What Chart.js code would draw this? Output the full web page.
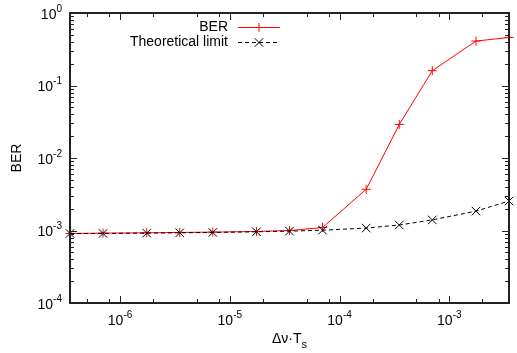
<!DOCTYPE html>
<html>
<head>
<meta charset="utf-8">
<script src="https://cdn.jsdelivr.net/npm/chart.js@4/dist/chart.umd.min.js"></script>
<style>
html,body{margin:0;padding:0;background:#fff;}
#c{display:block;}
</style>
</head>
<body>
<canvas id="c" width="517" height="353"></canvas>
<script>
// ---- data ----
const xValues = [3.5e-7, 7e-7, 1.75e-6, 3.5e-6, 7e-6, 1.75e-5, 3.5e-5, 7e-5, 1.75e-4, 3.5e-4, 7e-4, 1.75e-3, 3.5e-3];
const berValues = [9.1e-4, 9.2e-4, 9.3e-4, 9.4e-4, 9.5e-4, 9.7e-4, 1.0e-3, 1.1e-3, 3.7e-3, 2.9e-2, 1.6e-1, 4.1e-1, 4.6e-1];
const theoryValues = [9.1e-4, 9.1e-4, 9.2e-4, 9.3e-4, 9.4e-4, 9.6e-4, 9.8e-4, 1.01e-3, 1.08e-3, 1.19e-3, 1.4e-3, 1.85e-3, 2.55e-3];
const seriesLabels = ["BER", "Theoretical limit"];
const xTickExponents = [-6, -5, -4, -3];
const yTickExponents = [-4, -3, -2, -1, 0];
const xMinorMultipliers = [2, 5, 8];
const yMinorMultipliers = [2, 3, 4, 5, 6, 7, 8, 9];
const xTitle = "Δν·T";
const xTitleSub = "s";
const yTitle = "BER";

const FONT = '"Liberation Sans", Arial, Helvetica, sans-serif';

function toPoints(xs, ys){ return xs.map((x,i)=>({x:x, y:ys[i]})); }

function drawMarker(ctx, style, x, y, r, color){
  ctx.save();
  ctx.strokeStyle = color; ctx.lineWidth = 1; ctx.setLineDash([]);
  ctx.beginPath();
  if(style === 'cross'){
    ctx.moveTo(x-r, y); ctx.lineTo(x+r, y);
    ctx.moveTo(x, y-r); ctx.lineTo(x, y+r);
  } else {
    const d = r*Math.SQRT1_2;
    ctx.moveTo(x-d, y-d); ctx.lineTo(x+d, y+d);
    ctx.moveTo(x-d, y+d); ctx.lineTo(x+d, y-d);
  }
  ctx.stroke();
  ctx.restore();
}

function supText(ctx, base, sup, x, baseY, align){
  ctx.font = '14px ' + FONT;
  const wb = ctx.measureText(base).width;
  ctx.font = '10px ' + FONT;
  const ws = ctx.measureText(sup).width;
  const total = wb + ws;
  let left = x;
  if(align === 'center') left = x - total/2;
  else if(align === 'right') left = x - total;
  ctx.textAlign = 'left';
  ctx.textBaseline = 'alphabetic';
  ctx.font = '14px ' + FONT;
  ctx.fillText(base, left, baseY);
  ctx.font = '10px ' + FONT;
  ctx.fillText(sup, left + wb, baseY - 7);
}

const decorPlugin = {
  id: 'decor',
  afterDatasetsDraw(chart){
    const ctx = chart.ctx;
    const a = chart.chartArea;
    const xs = chart.scales.x, ys = chart.scales.y;
    ctx.save();
    ctx.strokeStyle = '#222'; ctx.fillStyle = '#000';
    // ticks
    ctx.lineWidth = 1;
    ctx.beginPath();
    xTickExponents.forEach(e=>{
      const px = Math.round(xs.getPixelForValue(Math.pow(10,e))) + 0.5;
      ctx.moveTo(px, a.bottom); ctx.lineTo(px, a.bottom-7);
      ctx.moveTo(px, a.top); ctx.lineTo(px, a.top+7);
    });
    for(let e=-7; e<=-3; e++){
      xMinorMultipliers.forEach(m=>{
        const v = m*Math.pow(10,e);
        if(v <= xs.min || v >= xs.max) return;
        const px = Math.round(xs.getPixelForValue(v)) + 0.5;
        ctx.moveTo(px, a.bottom); ctx.lineTo(px, a.bottom-4);
        ctx.moveTo(px, a.top); ctx.lineTo(px, a.top+4);
      });
    }
    yTickExponents.forEach(e=>{
      const py = Math.round(ys.getPixelForValue(Math.pow(10,e))) + 0.5;
      ctx.moveTo(a.left, py); ctx.lineTo(a.left+7, py);
      ctx.moveTo(a.right, py); ctx.lineTo(a.right-7, py);
    });
    for(let e=-4; e<0; e++){
      yMinorMultipliers.forEach(m=>{
        const v = m*Math.pow(10,e);
        const py = Math.round(ys.getPixelForValue(v)) + 0.5;
        ctx.moveTo(a.left, py); ctx.lineTo(a.left+4, py);
        ctx.moveTo(a.right, py); ctx.lineTo(a.right-4, py);
      });
    }
    ctx.stroke();
    // frame
    ctx.lineWidth = 2;
    ctx.strokeRect(a.left, a.top, a.right-a.left, a.bottom-a.top);
    // tick labels
    ctx.fillStyle = '#000';
    xTickExponents.forEach(e=>{
      const px = xs.getPixelForValue(Math.pow(10,e));
      supText(ctx, '10', String(e).replace('-', '-'), px, a.bottom + 22, 'center');
    });
    yTickExponents.forEach(e=>{
      const py = ys.getPixelForValue(Math.pow(10,e));
      supText(ctx, '10', String(e), a.left - 8, py + 5.5, 'right');
    });
    // axis titles
    ctx.font = '14px ' + FONT;
    const wT = ctx.measureText(xTitle).width;
    ctx.font = '11px ' + FONT;
    const wS = ctx.measureText(xTitleSub).width;
    const cx = (a.left + a.right)/2;
    const lx = cx - (wT+wS)/2;
    ctx.textAlign = 'left'; ctx.textBaseline = 'alphabetic';
    ctx.font = '14px ' + FONT;
    ctx.fillText(xTitle, lx, 343);
    ctx.font = '11px ' + FONT;
    ctx.fillText(xTitleSub, lx + wT, 348);
    ctx.save();
    ctx.translate(21, (a.top + a.bottom)/2);
    ctx.rotate(-Math.PI/2);
    ctx.font = '14px ' + FONT;
    ctx.textAlign = 'center'; ctx.textBaseline = 'alphabetic';
    ctx.fillText(yTitle, 0, 0);
    ctx.restore();
    // legend (gnuplot style: text right-aligned, sample on right)
    const rows = [26.5, 42];
    chart.data.datasets.forEach((ds, i)=>{
      const y = rows[i];
      ctx.font = '14px ' + FONT;
      ctx.textAlign = 'right'; ctx.textBaseline = 'middle';
      ctx.fillStyle = '#000';
      ctx.fillText(ds.label, 228, y + 0.5);
      ctx.save();
      ctx.strokeStyle = ds.borderColor; ctx.lineWidth = ds.borderWidth;
      ctx.setLineDash(ds.borderDash || []);
      ctx.beginPath(); ctx.moveTo(238, Math.round(y)+0.5); ctx.lineTo(280, Math.round(y)+0.5); ctx.stroke();
      ctx.restore();
      drawMarker(ctx, ds.pointStyle, 259, Math.round(y)+0.5, ds.pointStyle==='cross'?4.5:6, ds.pointBorderColor);
    });
    ctx.restore();
  }
};

const markerPlugin = {
  id: 'markers',
  afterDatasetsDraw(chart){
    // markers already drawn by chart.js
  }
};

new Chart(document.getElementById('c'), {
  type: 'line',
  data: {
    datasets: [
      {
        label: seriesLabels[0],
        data: toPoints(xValues, berValues),
        borderColor: '#ff0000',
        borderWidth: 1,
        pointStyle: 'cross',
        pointRadius: 4.5,
        pointBorderColor: '#ff0000',
        pointBorderWidth: 1,
        pointBackgroundColor: '#ff0000',
        fill: false,
        tension: 0,
        clip: false,
        order: 2
      },
      {
        label: seriesLabels[1],
        data: toPoints(xValues, theoryValues),
        borderColor: '#000000',
        borderWidth: 1,
        borderDash: [4, 3],
        pointStyle: 'crossRot',
        pointRadius: 6,
        pointBorderColor: '#000000',
        pointBorderWidth: 1,
        pointBackgroundColor: '#000000',
        fill: false,
        tension: 0,
        clip: false,
        order: 1
      }
    ]
  },
  options: {
    responsive: false,
    animation: false,
    devicePixelRatio: 1,
    layout: { padding: { left: 70, right: 8, top: 13, bottom: 50 } },
    plugins: { legend: { display: false }, tooltip: { enabled: false } },
    scales: {
      x: {
        type: 'logarithmic', min: 3.5e-7, max: 3.5e-3,
        grid: { display: false, drawTicks: false },
        border: { display: false },
        ticks: { display: false },
        title: { display: false }
      },
      y: {
        type: 'logarithmic', min: 1e-4, max: 1,
        grid: { display: false, drawTicks: false },
        border: { display: false },
        ticks: { display: false },
        title: { display: false }
      }
    }
  },
  plugins: [decorPlugin]
});
</script>
</body>
</html>
